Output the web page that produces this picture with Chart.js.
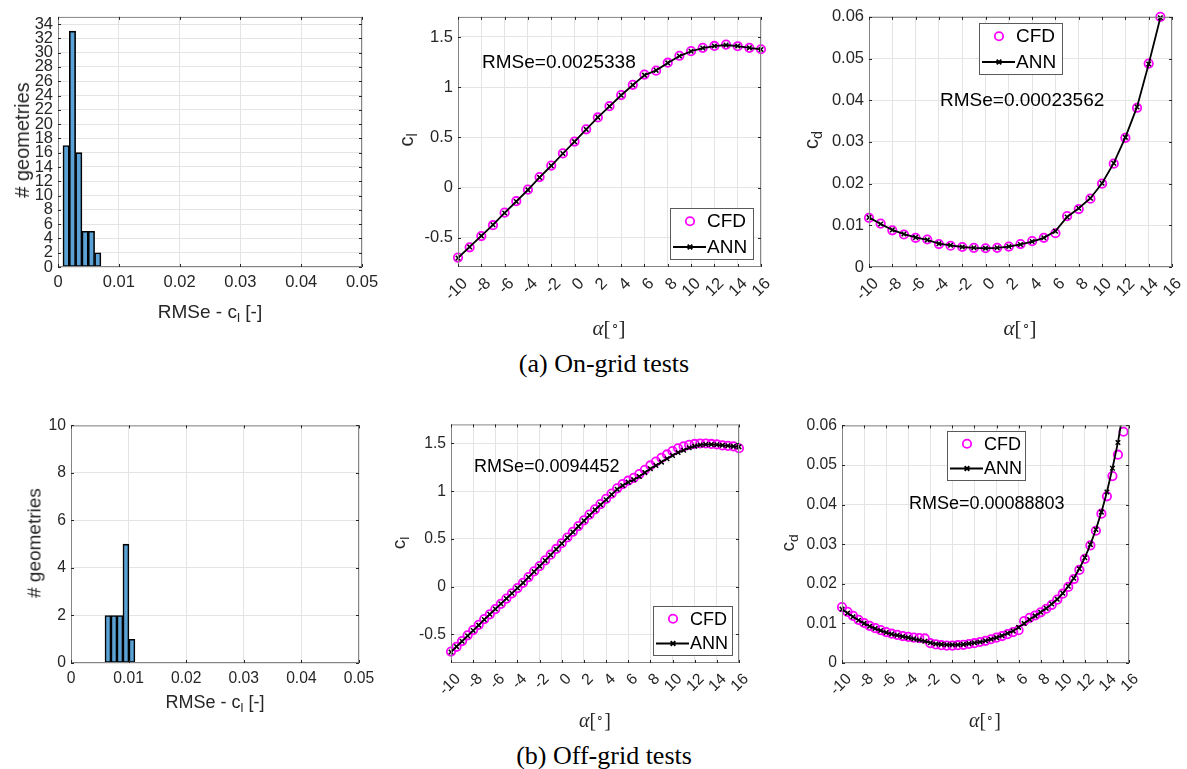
<!DOCTYPE html>
<html>
<head>
<meta charset="utf-8">
<script src="https://cdn.jsdelivr.net/npm/chart.js@4.4.0/dist/chart.umd.min.js"></script>
<style>
  body { margin: 0; background: #fff; width: 1187px; height: 769px; position: relative; overflow: hidden;
         font-family: "Liberation Sans", Arial, sans-serif; color: #262626; }
  canvas { position: absolute; }
  .lbl { position: absolute; white-space: nowrap; line-height: 1; transform: translate(-50%, -50%); }
  .rot { transform: translate(-50%, -50%) rotate(-90deg); }
  .sub { position: relative; top: 0.3em; font-size: 0.72em; }
  .alpha { font-family: "Liberation Serif", serif; }
  .deg { position: relative; top: -0.45em; font-size: 0.6em; }
  .rmse { position: absolute; white-space: nowrap; line-height: 1; transform: translateY(-50%); color: #000; }
  .cap { position: absolute; white-space: nowrap; line-height: 1; transform: translate(-50%, -50%);
         font-family: "Liberation Serif", serif; font-size: 26px; color: #000; }
</style>
</head>
<body>
<script>
// histogram bins (RMSe of c_l per geometry)
const histOnCenters = [0.00134, 0.00238, 0.00342, 0.00446, 0.0055, 0.00654];
const histOnCounts = [17, 33, 16, 5, 5, 2];
const histOffCenters = [0.00642, 0.00746, 0.0085, 0.00954, 0.01058];
const histOffCounts = [2, 2, 2, 5, 1];

// tick labels
const rmseTicks = [0, 0.01, 0.02, 0.03, 0.04, 0.05];
const countTicksOn = [0, 2, 4, 6, 8, 10, 12, 14, 16, 18, 20, 22, 24, 26, 28, 30, 32, 34];
const countTicksOff = [0, 2, 4, 6, 8, 10];
const alphaTicks = [-10, -8, -6, -4, -2, 0, 2, 4, 6, 8, 10, 12, 14, 16];
const clTicks = [-0.5, 0, 0.5, 1, 1.5];
const cdTicks = [0, 0.01, 0.02, 0.03, 0.04, 0.05, 0.06];

// on-grid polars
const alphaOn = [-10, -9, -8, -7, -6, -5, -4, -3, -2, -1, 0, 1, 2, 3, 4, 5, 6, 7, 8, 9, 10, 11, 12, 13, 14, 15, 16];
const clOnCFD = [-0.696, -0.594, -0.482, -0.374, -0.249, -0.135, -0.020, 0.105, 0.220, 0.341, 0.459, 0.581, 0.699, 0.811, 0.922, 1.024, 1.126, 1.165, 1.244, 1.313, 1.359, 1.392, 1.411, 1.424, 1.408, 1.392, 1.378];
const clOnANN = [-0.700, -0.590, -0.480, -0.370, -0.252, -0.138, -0.022, 0.102, 0.218, 0.340, 0.458, 0.580, 0.700, 0.810, 0.920, 1.022, 1.120, 1.168, 1.242, 1.310, 1.358, 1.390, 1.410, 1.420, 1.410, 1.392, 1.376];
const alphaOnCd = [-10, -9, -8, -7, -6, -5, -4, -3, -2, -1, 0, 1, 2, 3, 4, 5, 6, 7, 8, 9, 10, 11, 12, 13, 14, 15];
const cdOnCFD = [0.0118, 0.0104, 0.0088, 0.0078, 0.0070, 0.0066, 0.0055, 0.0051, 0.0048, 0.0046, 0.0045, 0.0046, 0.0049, 0.0055, 0.0062, 0.0070, 0.0081, 0.0122, 0.0139, 0.0164, 0.0200, 0.0248, 0.0310, 0.0382, 0.0488, 0.0600];
const cdOnANN = [0.0119, 0.0103, 0.0089, 0.0079, 0.0071, 0.0065, 0.0056, 0.0052, 0.0048, 0.0046, 0.0045, 0.0046, 0.0049, 0.0054, 0.0061, 0.0070, 0.0086, 0.0120, 0.0141, 0.0165, 0.0201, 0.0249, 0.0311, 0.0384, 0.0487, 0.0598];

// off-grid polars
const alphaOff = [-10, -9.5, -9, -8.5, -8, -7.5, -7, -6.5, -6, -5.5, -5, -4.5, -4, -3.5, -3, -2.5, -2, -1.5, -1, -0.5,
  0, 0.5, 1, 1.5, 2, 2.5, 3, 3.5, 4, 4.5, 5, 5.5, 6, 6.5, 7, 7.5, 8, 8.5, 9, 9.5, 10, 10.5, 11, 11.5, 12, 12.5, 13, 13.5, 14, 14.5, 15, 15.5, 16];
const clOffCFD = [-0.68, -0.63, -0.57, -0.51, -0.455, -0.40, -0.34, -0.29, -0.235, -0.18, -0.125, -0.07, -0.015, 0.04, 0.10, 0.16, 0.215, 0.275, 0.335, 0.395,
  0.455, 0.515, 0.575, 0.635, 0.695, 0.755, 0.81, 0.865, 0.92, 0.975, 1.03, 1.075, 1.11, 1.14, 1.18, 1.225, 1.27, 1.31, 1.35, 1.385, 1.42, 1.45, 1.47, 1.485, 1.495, 1.50, 1.50, 1.495, 1.49, 1.48, 1.475, 1.47, 1.45];
const clOffANN = [-0.685, -0.628, -0.572, -0.515, -0.46, -0.403, -0.345, -0.29, -0.235, -0.18, -0.125, -0.07, -0.015, 0.04, 0.098, 0.157, 0.215, 0.273, 0.332, 0.392,
  0.452, 0.512, 0.572, 0.632, 0.69, 0.748, 0.804, 0.858, 0.91, 0.965, 1.02, 1.06, 1.095, 1.12, 1.155, 1.195, 1.235, 1.27, 1.305, 1.34, 1.375, 1.405, 1.43, 1.455, 1.472, 1.485, 1.49, 1.49, 1.486, 1.481, 1.476, 1.47, 1.465];
const cdOffCFD = [0.0141, 0.0129, 0.0119, 0.0109, 0.0101, 0.0094, 0.0088, 0.0083, 0.0078, 0.0074, 0.0071, 0.0068, 0.0066, 0.0064, 0.0063, 0.0062, 0.0050, 0.0047, 0.0045, 0.0044,
  0.0044, 0.0045, 0.0046, 0.0048, 0.0050, 0.0053, 0.0056, 0.0060, 0.0064, 0.0068, 0.0073, 0.0078, 0.0083, 0.0106, 0.0114, 0.0120, 0.0128, 0.0137, 0.0147, 0.0160, 0.0175, 0.0192, 0.0212, 0.0235, 0.0263, 0.0297, 0.0334, 0.0377, 0.0421, 0.0472, 0.0526, 0.0584, null];
const cdOffANN = [0.0136, 0.0126, 0.0117, 0.0108, 0.0100, 0.0093, 0.0087, 0.0082, 0.0077, 0.0073, 0.0070, 0.0067, 0.0064, 0.0061, 0.0058, 0.0055, 0.0051, 0.0048, 0.0047, 0.0046,
  0.0046, 0.0046, 0.0047, 0.0049, 0.0051, 0.0053, 0.0056, 0.0060, 0.0064, 0.0069, 0.0075, 0.0081, 0.0090, 0.0100, 0.0110, 0.0119, 0.0128, 0.0138, 0.0149, 0.0161, 0.0176, 0.0194, 0.0214, 0.0238, 0.0266, 0.0299, 0.0337, 0.0381, 0.0432, 0.0492, 0.0557, 0.0642, null];

const TICK = '#262626', GRID = '#e4e4e4', BOX = '#858585';
const ML = 70, MT = 12, MR = 30, MB = 70;

const pts = (xs, ys) => xs.map((x, i) => ({ x: x, y: ys[i] }));

function hist(centers, counts) {
  return [{
    data: pts(centers, counts),
    backgroundColor: '#5aa2d6', borderColor: '#000', borderWidth: 1.6, borderSkipped: false,
    barPercentage: 1, categoryPercentage: 1
  }];
}

function curves(xs, cfd, ann, clip) {
  return [
    { label: 'ANN', data: pts(xs, ann), showLine: true, borderColor: '#000', backgroundColor: '#000',
      borderWidth: 1.8, pointStyle: 'crossRot', pointRadius: 3.2, pointBorderWidth: 1.5, tension: 0, order: 0, clip: clip },
    { label: 'CFD', data: pts(xs, cfd), showLine: false, borderColor: '#ff00ff', backgroundColor: 'rgba(0,0,0,0)',
      pointStyle: 'circle', pointRadius: 4.2, pointBorderWidth: 1.8, order: 1, clip: clip }
  ];
}

function drawLegend(ctx, lg, ox, oy, fs) {
  const L = lg.x - ox, T = lg.y - oy;
  const r1 = T + lg.h * 0.26, r2 = T + lg.h * 0.765;
  ctx.fillStyle = '#fff';
  ctx.fillRect(L, T, lg.w, lg.h);
  ctx.strokeStyle = '#5a5a5a';
  ctx.lineWidth = 1;
  ctx.strokeRect(L + 0.5, T + 0.5, lg.w, lg.h);
  ctx.strokeStyle = '#ff00ff';
  ctx.lineWidth = 1.8;
  ctx.beginPath();
  ctx.arc(L + 20, r1, 4.2, 0, Math.PI * 2);
  ctx.stroke();
  ctx.strokeStyle = '#000';
  ctx.beginPath();
  ctx.moveTo(L + 3, r2);
  ctx.lineTo(L + 36, r2);
  ctx.moveTo(L + 17.7, r2 - 2.3); ctx.lineTo(L + 22.3, r2 + 2.3);
  ctx.moveTo(L + 17.7, r2 + 2.3); ctx.lineTo(L + 22.3, r2 - 2.3);
  ctx.stroke();
  ctx.fillStyle = '#000';
  ctx.font = (19 * fs) + 'px "Liberation Sans", Arial, sans-serif';
  ctx.textBaseline = 'middle';
  ctx.textAlign = 'left';
  ctx.fillText('CFD', L + 37, r1 + 1);
  ctx.fillText('ANN', L + 37, r2 + 1);
}

function framePlugin(p, ox, oy) {
  return {
    id: 'frame',
    afterDraw(chart) {
      const ctx = chart.ctx, a = chart.chartArea, sx = chart.scales.x, sy = chart.scales.y;
      ctx.save();
      ctx.strokeStyle = BOX;
      ctx.lineWidth = 1;
      ctx.strokeRect(a.left + 0.5, a.top + 0.5, a.right - a.left - 1, a.bottom - a.top - 1);
      ctx.strokeStyle = TICK;
      ctx.beginPath();
      p.xTicks.forEach(v => {
        const x = Math.round(sx.getPixelForValue(v)) + 0.5;
        ctx.moveTo(x, a.bottom); ctx.lineTo(x, a.bottom - 3);
        ctx.moveTo(x, a.top); ctx.lineTo(x, a.top + 3);
      });
      p.yTicks.forEach(v => {
        const y = Math.round(sy.getPixelForValue(v)) + 0.5;
        ctx.moveTo(a.left, y); ctx.lineTo(a.left + 3, y);
        ctx.moveTo(a.right, y); ctx.lineTo(a.right - 3, y);
      });
      ctx.stroke();
      if (p.legend) drawLegend(ctx, p.legend, ox, oy, p.fs);
      ctx.restore();
    }
  };
}

function addText(cls, x, y, html, size) {
  const d = document.createElement('div');
  d.className = cls;
  d.style.left = x + 'px';
  d.style.top = y + 'px';
  if (size) d.style.fontSize = size + 'px';
  d.innerHTML = html;
  document.body.appendChild(d);
}

function makePanel(p) {
  const [l, t, r, b] = p.box;
  const w = r - l + ML + MR, h = b - t + MT + MB;
  const ox = l - ML, oy = t - MT;
  const cv = document.createElement('canvas');
  cv.width = w; cv.height = h;
  cv.style.left = ox + 'px'; cv.style.top = oy + 'px';
  cv.style.width = w + 'px'; cv.style.height = h + 'px';
  document.body.appendChild(cv);
  const font = { family: '"Liberation Sans", Arial, sans-serif', size: 16.5 * p.fs };
  new Chart(cv, {
    type: p.type,
    data: { datasets: p.datasets },
    options: {
      responsive: false,
      animation: false,
      devicePixelRatio: 1,
      layout: { padding: { left: 0, top: MT, right: MR, bottom: 0 } },
      plugins: { legend: { display: false }, tooltip: { enabled: false } },
      scales: {
        x: {
          type: 'linear', min: p.xMin, max: p.xMax, offset: false,
          afterBuildTicks: s => { s.ticks = p.xTicks.map(v => ({ value: v })); },
          afterFit: s => { s.height = MB; },
          grid: { color: GRID, drawTicks: false, offset: false },
          border: { display: false },
          ticks: { font: font, color: TICK, padding: p.rot ? 7 : 6, labelOffset: p.rot ? 7 : 0,
                   minRotation: p.rot || 0, maxRotation: p.rot || 0,
                   autoSkip: false, callback: v => String(v) }
        },
        y: {
          type: 'linear', min: p.yMin, max: p.yMax,
          afterBuildTicks: s => { s.ticks = p.yTicks.map(v => ({ value: v })); },
          afterFit: s => { s.width = ML; },
          grid: { color: GRID, drawTicks: false },
          border: { display: false },
          ticks: { font: font, color: TICK, padding: 5, autoSkip: false, callback: v => String(v) }
        }
      }
    },
    plugins: [framePlugin(p, ox, oy)]
  });
}

const clipIn = 6;
const clipTopOff = { left: 6, right: 6, bottom: 6, top: 0 };

makePanel({ type: 'bar', box: [58, 14, 362, 267], fs: 1, xMin: 0, xMax: 0.05, yMin: 0, yMax: 35,
  xTicks: rmseTicks, yTicks: countTicksOn, datasets: hist(histOnCenters, histOnCounts) });
makePanel({ type: 'scatter', box: [458, 14, 761, 267], fs: 1, rot: 45, xMin: -10, xMax: 16, yMin: -0.79, yMax: 1.7,
  xTicks: alphaTicks, yTicks: clTicks, datasets: curves(alphaOn, clOnCFD, clOnANN, clipIn),
  legend: { x: 670, y: 208, w: 83, h: 51 } });
makePanel({ type: 'scatter', box: [869, 14, 1172, 267], fs: 1, rot: 45, xMin: -10, xMax: 16, yMin: 0, yMax: 0.06,
  xTicks: alphaTicks, yTicks: cdTicks, datasets: curves(alphaOnCd, cdOnCFD, cdOnANN, clipIn),
  legend: { x: 979, y: 23, w: 83, h: 51 } });
makePanel({ type: 'bar', box: [71, 423, 359, 663], fs: 0.95, xMin: 0, xMax: 0.05, yMin: 0, yMax: 10,
  xTicks: rmseTicks, yTicks: countTicksOff, datasets: hist(histOffCenters, histOffCounts) });
makePanel({ type: 'scatter', box: [451, 422, 739, 663], fs: 0.95, rot: 45, xMin: -10, xMax: 16, yMin: -0.8, yMax: 1.7,
  xTicks: alphaTicks, yTicks: clTicks, datasets: curves(alphaOff, clOffCFD, clOffANN, clipIn),
  legend: { x: 653, y: 606, w: 79, h: 49 } });
makePanel({ type: 'scatter', box: [842, 423, 1129, 663], fs: 0.95, rot: 45, xMin: -10, xMax: 16, yMin: 0, yMax: 0.06,
  xTicks: alphaTicks, yTicks: cdTicks, datasets: curves(alphaOff, cdOffCFD, cdOffANN, clipTopOff),
  legend: { x: 947, y: 431, w: 78, h: 49 } });

// axis labels
const alphaLbl = '<i>α</i>[<span class="deg">∘</span>]';
addText('lbl rot', 22, 140, '# geometries', 20);
addText('lbl', 210, 311, 'RMSe - c<span class="sub">l</span> [-]', 19);
addText('lbl rot', 34, 543, '# geometries', 19);
addText('lbl', 215, 702, 'RMSe - c<span class="sub">l</span> [-]', 18);
addText('lbl rot', 406, 140, 'c<span class="sub">l</span>', 20);
addText('lbl rot', 811, 140, 'c<span class="sub">d</span>', 20);
addText('lbl rot', 398, 543, 'c<span class="sub">l</span>', 19);
addText('lbl rot', 787, 543, 'c<span class="sub">d</span>', 19);
addText('lbl alpha', 609, 328, alphaLbl, 21);
addText('lbl alpha', 1020, 328, alphaLbl, 21);
addText('lbl alpha', 595, 720, alphaLbl, 20);
addText('lbl alpha', 985, 720, alphaLbl, 20);

// error annotations
addText('rmse', 482, 61, 'RMSe=0.0025338', 19);
addText('rmse', 940, 99, 'RMSe=0.00023562', 19);
addText('rmse', 474, 466, 'RMSe=0.0094452', 18);
addText('rmse', 909, 503, 'RMSe=0.00088803', 18);

// captions
addText('cap', 604, 364, '(a) On-grid tests');
addText('cap', 604, 756, '(b) Off-grid tests');
</script>
</body>
</html>
